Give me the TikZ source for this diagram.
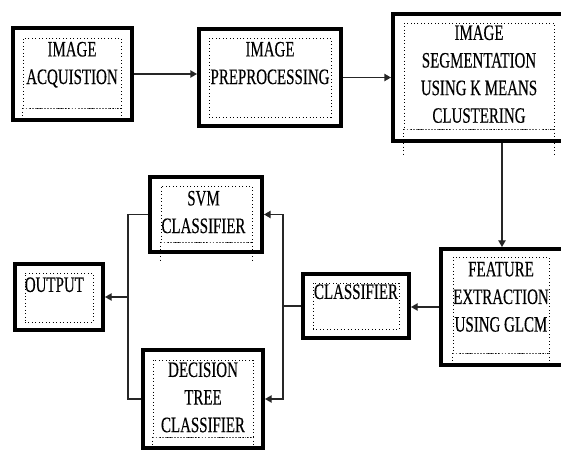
\documentclass[tikz,border=0pt]{standalone}
\usepackage{fontspec}
\newfontfamily\diagfont[FakeStretch=0.68,FakeBold=0.3]{Liberation Serif}
\usetikzlibrary{arrows.meta,calc}

\begin{document}
\begin{tikzpicture}[x=0.75pt,y=-0.75pt,
  sz/.style 2 args={minimum width=#1*0.75pt,minimum height=#2*0.75pt},
  outbox/.style={draw,line width=3pt,inner sep=0pt},
  inbox/.style={draw,dotted,line width=0.6pt,inner sep=0pt},
  lbl/.style={font=\diagfont\fontsize{16.5}{20.7}\selectfont,align=center,inner sep=0pt},
  tail/.style={dotted,line width=0.6pt},
  seam/.style={densely dotted,line width=1.3pt,black!60},
  link/.style={line width=1pt,black!85},
  arr/.style={link,-{Triangle[length=5pt,width=5.5pt]}}]
  \useasboundingbox (0,0) rectangle (561,452);
  % Top row
  \node[outbox,sz={119}{92}] (acq) at (72.5,74) {};
  \node[inbox,sz={98}{70}] (acqin) at (72,73) {};
  \node[lbl,anchor=north] (acqtx) at ($(acqin.north)+(0,4)$) {IMAGE\\ACQUISTION};
  \draw[seam] (acqin.south west) -- (acqin.south east);
  \draw[tail] (acqin.south west) -- ++(0,7);
  \draw[tail] (acqin.south east) -- ++(0,7);

  \node[outbox,sz={142}{97}] (pre) at (270,77.5) {};
  \node[inbox,sz={122}{79}] (prein) at (270,77.5) {};
  \node[lbl,anchor=north] (pretx) at ($(prein.north)+(0,4)$) {IMAGE\\PREPROCESSING};

  \node[outbox,sz={170}{127}] (seg) at (478,77.5) {};
  \node[inbox,sz={150}{106}] (segin) at (479,76) {};
  \node[lbl,anchor=north] (segtx) at ($(segin.north)+(0,2.5)$) {IMAGE\\SEGMENTATION\\USING K MEANS\\CLUSTERING};
  \draw[seam] (segin.south west) -- (segin.south east);
  \draw[tail] (segin.south west) -- ++(0,26);
  \draw[tail] (segin.south east) -- ++(0,26);

  % Feature extraction and classifier
  \node[outbox,sz={122}{116}] (feat) at (502,307) {};
  \node[inbox,sz={96}{96}] (featin) at (501,305) {};
  \node[lbl,anchor=north] (feattx) at ($(featin.north)+(0,5)$) {FEATURE\\EXTRACTION\\USING GLCM};
  \draw[seam] (featin.south west) -- (featin.south east);
  \draw[tail] (featin.south west) -- ++(0,9);
  \draw[tail] (featin.south east) -- ++(0,9);

  \node[outbox,sz={106}{64}] (cls) at (356,306) {};
  \node[inbox,sz={86}{46}] (clsin) at (356,306) {};
  \node[lbl,anchor=north] (clstx) at ($(clsin.north)+(0,1.5)$) {CLASSIFIER};

  % Two classifiers
  \node[outbox,sz={112}{75}] (svm) at (206,214.5) {};
  \node[inbox,sz={91}{56}] (svmin) at (206.5,214) {};
  \node[lbl,anchor=north] (svmtx) at ($(svmin.north)+(-3,5)$) {SVM\\CLASSIFIER};
  \draw[seam] (svmin.south west) -- (svmin.south east);
  \draw[tail] (svmin.south west) -- ++(0,18);
  \draw[tail] (svmin.south east) -- ++(0,18);

  \node[outbox,sz={120}{98}] (dt) at (203,399) {};
  \node[inbox,sz={100}{77}] (dtin) at (203,398.5) {};
  \node[lbl,anchor=north] (dttx) at ($(dtin.north)+(0,2.5)$) {DECISION\\TREE\\CLASSIFIER};
  \draw[seam] (dtin.south west) -- (dtin.south east);
  \draw[tail] (dtin.south west) -- ++(0,13);
  \draw[tail] (dtin.south east) -- ++(0,13);

  % Output
  \node[outbox,sz={88}{66}] (out) at (59,297) {};
  \node[inbox,sz={68}{49}] (outin) at (59,297.5) {};
  \node[lbl,anchor=north west] (outtx) at ($(outin.north west)+(0,4.5)$) {OUTPUT};

  % Connectors
  \draw[arr] (acq.east) -- (acq.east -| pre.west);
  \draw[arr] (pre.east) -- (pre.east -| seg.west);
  \draw[arr] (seg.south -| feat.north) -- (feat.north);
  \draw[arr] (feat.west) -- (feat.west -| cls.east);
  \coordinate (split) at (283,306);
  \draw[link] (cls.west) -- (split);
  \draw[arr] (split) |- (svm.east);
  \draw[arr] (split) |- (dt.east);
  \coordinate (merge) at (128,297);
  \draw[link] (svm.west) -| (merge);
  \draw[link] (dt.west) -| (merge);
  \draw[arr] (merge) -- (out.east);
\end{tikzpicture}
\end{document}
